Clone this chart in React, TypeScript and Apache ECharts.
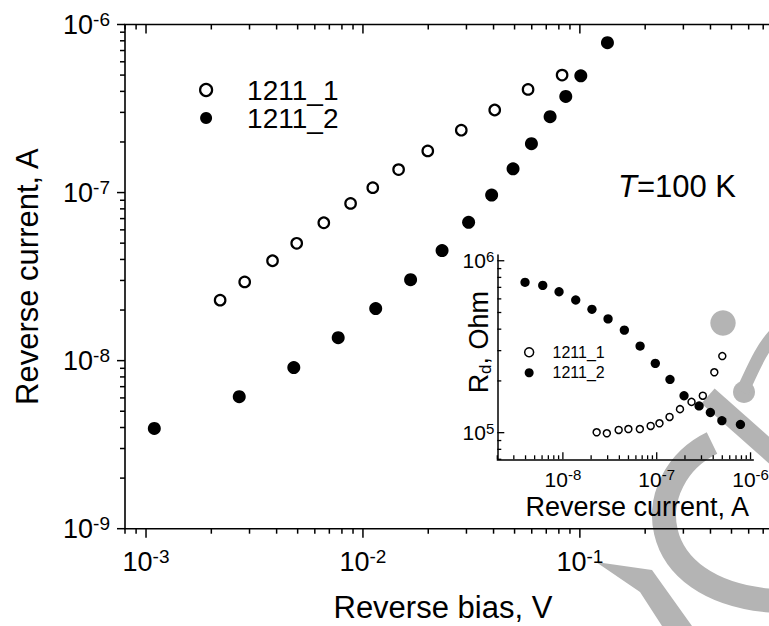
import React, { useEffect, useRef } from 'react';
import * as echarts from 'echarts';

const FONT = '"Liberation Sans", Arial, Helvetica, sans-serif';

// ---- Main plot: reverse I-V characteristics at T = 100 K ----
const seriesNames = ['1211_1', '1211_2'];
const biasOpen = [2.196e-3, 2.85e-3, 3.83e-3, 4.95e-3, 6.6e-3, 8.77e-3, 1.11e-2, 1.46e-2, 1.99e-2, 2.84e-2, 4.05e-2, 5.77e-2, 8.28e-2];
const currentOpen = [2.29e-8, 2.94e-8, 3.93e-8, 4.99e-8, 6.61e-8, 8.62e-8, 1.07e-7, 1.37e-7, 1.77e-7, 2.35e-7, 3.1e-7, 4.11e-7, 5.0e-7];
const biasFilled = [1.092e-3, 2.69e-3, 4.8e-3, 7.69e-3, 1.145e-2, 1.658e-2, 2.316e-2, 3.07e-2, 3.92e-2, 4.92e-2, 5.98e-2, 7.29e-2, 8.61e-2, 0.101, 0.134];
const currentFilled = [3.95e-9, 6.1e-9, 9.1e-9, 1.37e-8, 2.04e-8, 3.03e-8, 4.52e-8, 6.65e-8, 9.66e-8, 1.385e-7, 1.955e-7, 2.83e-7, 3.73e-7, 4.95e-7, 7.8e-7];

// ---- Inset: differential resistance vs reverse current ----
const rdOpen = [1.005e5, 9.92e4, 1.037e5, 1.05e5, 1.05e5, 1.094e5, 1.134e5, 1.234e5, 1.37e5, 1.51e5, 1.64e5, 2.245e5, 2.79e5];
const rdFilled = [7.49e5, 7.19e5, 6.6e5, 5.91e5, 5.22e5, 4.59e5, 3.95e5, 3.19e5, 2.53e5, 2.04e5, 1.64e5, 1.43e5, 1.31e5, 1.174e5, 1.116e5];

// ---- Axis ranges and tick-label exponents ----
const mainX: [number, number] = [8e-4, 1];
const mainY: [number, number] = [1e-9, 1e-6];
const insetX: [number, number] = [2e-9, 1.07e-6];
const insetY: [number, number] = [7e4, 1.08e6];
const mainXLabelExps = [-3, -2, -1];
const mainYLabelExps = [-9, -8, -7, -6];
const insetXLabelExps = [-8, -7, -6];
const insetYLabelExps = [5, 6];

const WATERMARK = '#b4b4b4';

function decadeTicks(lo: number, hi: number) {
  const major: number[] = [];
  const minor: number[] = [];
  for (let e = Math.floor(Math.log10(lo)); e <= Math.ceil(Math.log10(hi)); e++) {
    for (let m = 1; m <= 9; m++) {
      const v = m * Math.pow(10, e);
      if (v < lo * (1 - 1e-9) || v > hi * (1 + 1e-9)) continue;
      (m === 1 ? major : minor).push(v);
    }
  }
  return { major, minor };
}

function tickData(xr: [number, number], yr: [number, number]) {
  const xt = decadeTicks(xr[0], xr[1]);
  const yt = decadeTicks(yr[0], yr[1]);
  const d: number[][] = [];
  xt.major.forEach((v) => d.push([v, yr[0], 0]));
  xt.minor.forEach((v) => d.push([v, yr[0], 1]));
  yt.major.forEach((v) => d.push([xr[0], v, 2]));
  yt.minor.forEach((v) => d.push([xr[0], v, 3]));
  return d;
}

function tickRenderer(
  xr: [number, number],
  yr: [number, number],
  spec: { xOut: boolean; top: boolean; yOut: boolean; xMaj: number; xMin: number; yMaj: number; yMin: number; lw: number }
) {
  return (_params: any, api: any) => {
    const xv = api.value(0);
    const yv = api.value(1);
    const k = api.value(2);
    const st = { stroke: '#000', lineWidth: spec.lw };
    const children: any[] = [];
    if (k < 2) {
      const len = k === 0 ? spec.xMaj : spec.xMin;
      const b = api.coord([xv, yr[0]]);
      const dir = spec.xOut ? 1 : -1;
      children.push({ type: 'line', shape: { x1: b[0], y1: b[1], x2: b[0], y2: b[1] + dir * len }, style: st });
      if (spec.top) {
        const t = api.coord([xv, yr[1]]);
        children.push({ type: 'line', shape: { x1: t[0], y1: t[1], x2: t[0], y2: t[1] + len }, style: st });
      }
    } else {
      const len = k === 2 ? spec.yMaj : spec.yMin;
      const l = api.coord([xr[0], yv]);
      const dir = spec.yOut ? -1 : 1;
      children.push({ type: 'line', shape: { x1: l[0], y1: l[1], x2: l[0] + dir * len, y2: l[1] }, style: st });
    }
    return { type: 'group', children };
  };
}

function powFormatter(exps: number[]) {
  return (val: number) => {
    const l = Math.log10(val);
    const e = Math.round(l);
    if (Math.abs(l - e) > 1e-6 || exps.indexOf(e) < 0) return '';
    return `{b|10}{s|${e}}`;
  };
}

const mainRich = {
  b: { fontSize: 27, fontFamily: FONT, color: '#000', lineHeight: 30 },
  s: { fontSize: 19, fontFamily: FONT, color: '#000', lineHeight: 19, verticalAlign: 'top' },
};
const insetRich = {
  b: { fontSize: 21, fontFamily: FONT, color: '#000', lineHeight: 24 },
  s: { fontSize: 15, fontFamily: FONT, color: '#000', lineHeight: 15, verticalAlign: 'top' },
};

function buildOption() {
  return {
    animation: false,
    backgroundColor: '#fff',
    grid: [
      {
        left: 125, top: 24.5, right: -27.8, bottom: 97.3,
        show: true, borderColor: '#000', borderWidth: 1.6, backgroundColor: 'transparent',
        containLabel: false, outerBoundsMode: 'none',
      },
      {
        left: 497.3, top: 255, width: 256, height: 204.3,
        containLabel: false, outerBoundsMode: 'none',
      },
    ],
    xAxis: [
      {
        type: 'log', gridIndex: 0, min: mainX[0], max: mainX[1], logBase: 10,
        name: 'Reverse bias, V', nameLocation: 'middle', nameGap: 63, nameMoveOverlap: false,
        nameTextStyle: { fontSize: 31, fontFamily: FONT, color: '#000', padding: [0, 36, 0, 0] },
        axisLine: { show: false }, axisTick: { show: false }, splitLine: { show: false }, minorTick: { show: false },
        axisLabel: { formatter: powFormatter(mainXLabelExps), margin: 18, rich: mainRich },
      },
      {
        type: 'log', gridIndex: 1, min: insetX[0], max: insetX[1], logBase: 10,
        name: 'Reverse current, A', nameLocation: 'middle', nameGap: 34, nameMoveOverlap: false,
        nameTextStyle: { fontSize: 27, fontFamily: FONT, color: '#000', padding: [0, 0, 0, 24] },
        axisLine: { show: true, lineStyle: { color: '#000', width: 1.5 } },
        axisTick: { show: false }, splitLine: { show: false },
        axisLabel: { formatter: powFormatter(insetXLabelExps), margin: 8, rich: insetRich },
      },
    ],
    yAxis: [
      {
        type: 'log', gridIndex: 0, min: mainY[0], max: mainY[1], logBase: 10,
        name: 'Reverse current, A', nameLocation: 'middle', nameGap: 82, nameMoveOverlap: false,
        nameTextStyle: { fontSize: 31, fontFamily: FONT, color: '#000' },
        axisLine: { show: false }, axisTick: { show: false }, splitLine: { show: false },
        axisLabel: { formatter: powFormatter(mainYLabelExps), margin: 15, rich: mainRich },
      },
      {
        type: 'log', gridIndex: 1, min: insetY[0], max: insetY[1], logBase: 10,
        name: '{r|R}{d|d}{r|, Ohm}', nameLocation: 'middle', nameGap: 3, nameMoveOverlap: false,
        nameTextStyle: {
          fontSize: 27, fontFamily: FONT, color: '#000', padding: [0, 0, 0, 30],
          rich: {
            r: { fontSize: 27, fontFamily: FONT, color: '#000', lineHeight: 30 },
            d: { fontSize: 17, fontFamily: FONT, color: '#000', lineHeight: 17, verticalAlign: 'bottom' },
          },
        },
        axisLine: { show: true, lineStyle: { color: '#000', width: 1.5 } },
        axisTick: { show: false }, splitLine: { show: false },
        axisLabel: { formatter: powFormatter(insetYLabelExps), margin: 3, rich: insetRich },
      },
    ],
    legend: [
      {
        orient: 'vertical', left: 194, top: 71, itemWidth: 72, itemHeight: 12, itemGap: 0,
        selectedMode: false,
        textStyle: { fontSize: 28, fontFamily: FONT, color: '#000', lineHeight: 28 },
        data: [
          { name: seriesNames[0], icon: 'circle', itemStyle: { color: '#fff', borderColor: '#000', borderWidth: 2.2 } },
          { name: seriesNames[1], icon: 'circle', itemStyle: { color: '#000', borderWidth: 0 } },
        ],
      },
      {
        orient: 'vertical', left: 518.9, top: 337, itemWidth: 36.8, itemHeight: 9, itemGap: 0,
        selectedMode: false,
        textStyle: { fontSize: 16, fontFamily: FONT, color: '#000', lineHeight: 20.5 },
        data: [
          { name: seriesNames[0], icon: 'circle', itemStyle: { color: '#fff', borderColor: '#000', borderWidth: 1.5 } },
          { name: seriesNames[1], icon: 'circle', itemStyle: { color: '#000', borderWidth: 0 } },
        ],
      },
    ],
    graphic: [
      // light-grey watermark behind the plot
      { type: 'circle', z: -1, silent: true, shape: { cx: 723, cy: 323, r: 12.7 }, style: { fill: WATERMARK } },
      { type: 'circle', z: -1, silent: true, shape: { cx: 744, cy: 392, r: 11 }, style: { fill: WATERMARK } },
      {
        type: 'bezierCurve', z: -1, silent: true,
        shape: { x1: 742, y1: 392, x2: 775, y2: 334, cpx1: 752, cpy1: 372, cpx2: 760, cpy2: 350 },
        style: { stroke: WATERMARK, lineWidth: 13, fill: null },
      },
      {
        type: 'line', z: -1, silent: true,
        shape: { x1: 708, y1: 396, x2: 778, y2: 458 },
        style: { stroke: WATERMARK, lineWidth: 20 },
      },
      {
        type: 'bezierCurve', z: -1, silent: true,
        shape: { x1: 712, y1: 443, x2: 775, y2: 601, cpx1: 640, cpy1: 478, cpx2: 640, cpy2: 592 },
        style: { stroke: WATERMARK, lineWidth: 24, fill: null },
      },
      {
        type: 'polygon', z: -1, silent: true,
        shape: { points: [[596, 562], [652, 570], [692, 626], [662, 626], [640, 592]] },
        style: { fill: WATERMARK },
      },
      {
        type: 'text', x: 618, y: 186, z: 10,
        style: {
          text: '{i|T}{n|=100 K}', align: 'left', verticalAlign: 'middle',
          rich: {
            i: { fontSize: 31, fontFamily: FONT, fontStyle: 'italic', fill: '#000', color: '#000' },
            n: { fontSize: 31, fontFamily: FONT, fill: '#000', color: '#000' },
          },
        },
      },
    ],
    series: [
      {
        type: 'custom', name: 'mainTicks', xAxisIndex: 0, yAxisIndex: 0, silent: true, clip: false,
        renderItem: tickRenderer(mainX, mainY, { xOut: true, top: true, yOut: true, xMaj: 9, xMin: 5, yMaj: 8, yMin: 5, lw: 1.5 }),
        data: tickData(mainX, mainY), encode: { x: 0, y: 1 },
      },
      {
        type: 'custom', name: 'insetTicks', xAxisIndex: 1, yAxisIndex: 1, silent: true, clip: false,
        renderItem: tickRenderer(insetX, insetY, { xOut: false, top: false, yOut: false, xMaj: 7, xMin: 4, yMaj: 7, yMin: 4, lw: 1.3 }),
        data: tickData(insetX, insetY), encode: { x: 0, y: 1 },
      },
      {
        type: 'scatter', name: seriesNames[0], xAxisIndex: 0, yAxisIndex: 0, silent: true,
        symbol: 'circle', symbolSize: 10.5,
        itemStyle: { color: '#fff', borderColor: '#000', borderWidth: 2.2, opacity: 1 },
        data: biasOpen.map((v, i) => [v, currentOpen[i]]),
      },
      {
        type: 'scatter', name: seriesNames[1], xAxisIndex: 0, yAxisIndex: 0, silent: true,
        symbol: 'circle', symbolSize: 13,
        itemStyle: { color: '#000', opacity: 1 },
        data: biasFilled.map((v, i) => [v, currentFilled[i]]),
      },
      {
        type: 'scatter', name: seriesNames[0], xAxisIndex: 1, yAxisIndex: 1, silent: true,
        symbol: 'circle', symbolSize: 7,
        itemStyle: { color: '#fff', borderColor: '#000', borderWidth: 1.5, opacity: 1 },
        data: currentOpen.map((c, i) => [c, rdOpen[i]]),
      },
      {
        type: 'scatter', name: seriesNames[1], xAxisIndex: 1, yAxisIndex: 1, silent: true,
        symbol: 'circle', symbolSize: 9.3,
        itemStyle: { color: '#000', opacity: 1 },
        data: currentFilled.map((c, i) => [c, rdFilled[i]]),
      },
    ],
  };
}

export default function App() {
  const ref = useRef<HTMLDivElement>(null);
  useEffect(() => {
    if (!ref.current) return;
    const chart = echarts.init(ref.current, null, { renderer: 'svg' });
    chart.setOption(buildOption() as any);
    return () => chart.dispose();
  }, []);
  return (
    <div
      ref={ref}
      style={{ position: 'fixed', left: 0, top: 0, width: 769, height: 626, background: '#fff' }}
    />
  );
}
